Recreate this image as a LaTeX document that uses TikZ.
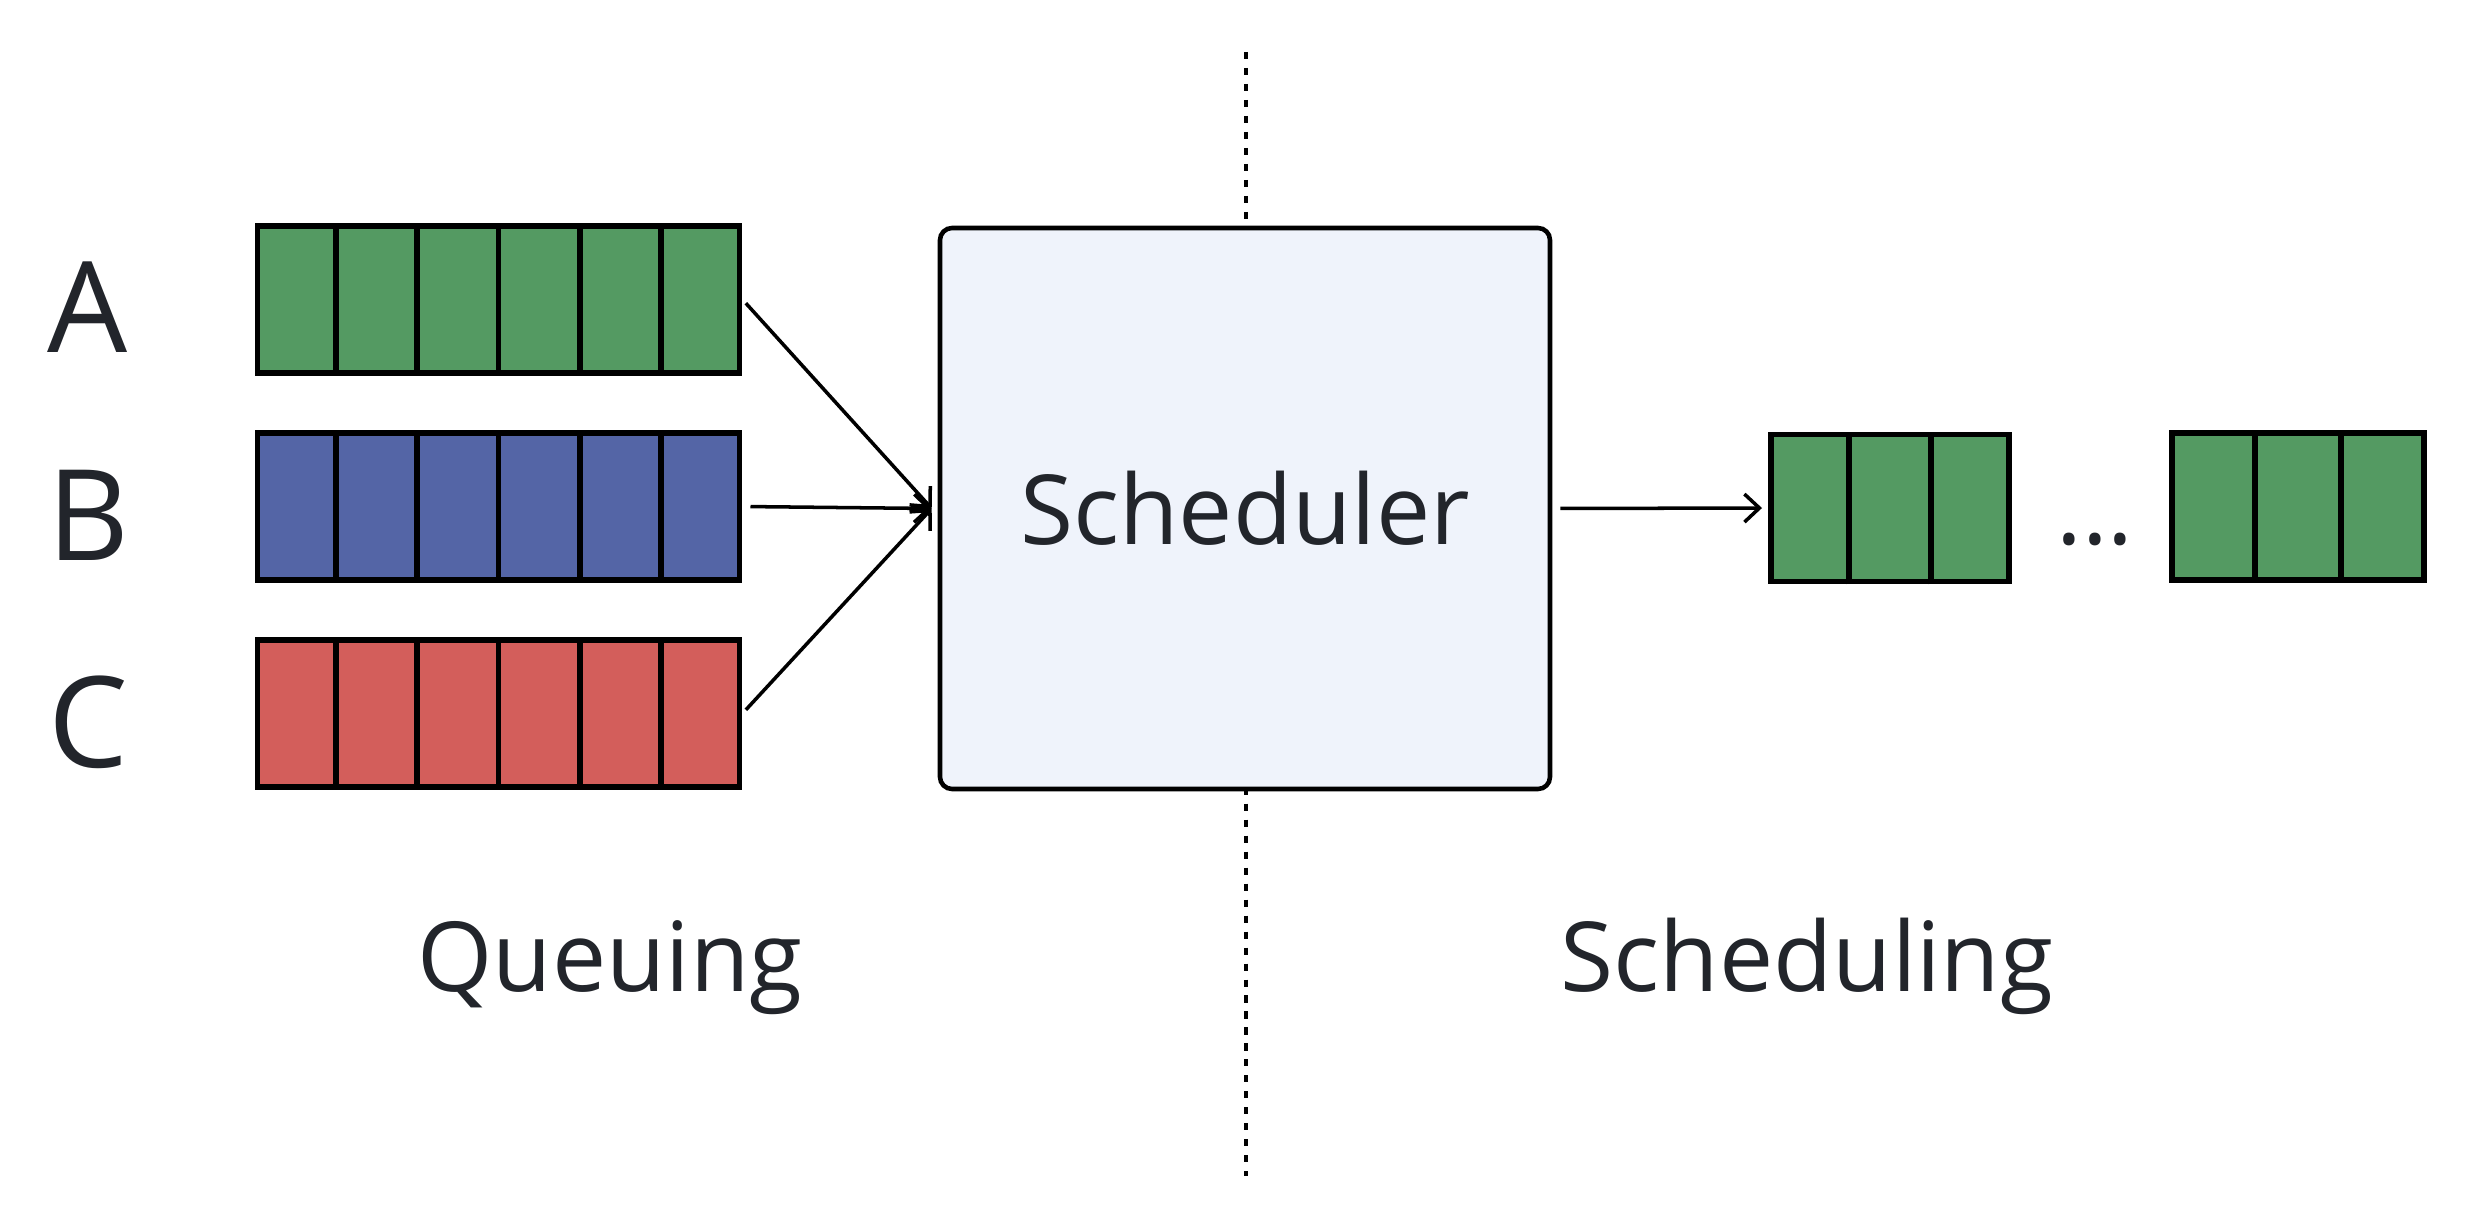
\documentclass[tikz,border=0pt]{standalone}
\usepackage{fontspec}
\setmainfont{Open Sans}
\usetikzlibrary{positioning, arrows.meta, calc}

\definecolor{qgreen}{HTML}{549A62}
\definecolor{qblue}{HTML}{5465A6}
\definecolor{qred}{HTML}{D35E5B}
\definecolor{ink}{HTML}{22252B}
\definecolor{boxfill}{HTML}{EFF3FB}

\tikzset{
  queue/.style={draw=black, line width=1.7pt, minimum height=1.47cm, inner sep=0pt},
  cellsep/.style={line width=1.7pt},
  schedbox/.style={draw=black, line width=1.3pt, fill=boxfill, rounded corners=0.12cm,
    minimum width=6.10cm, minimum height=5.61cm, text=ink, font=\fontsize{27.5}{32}\selectfont},
  lettertxt/.style={text=ink, anchor=base, font=\fontsize{36}{42}\selectfont},
  captiontxt/.style={text=ink, anchor=base, font=\fontsize{27.5}{32}\selectfont},
  flow/.style={-{Straight Barb[length=0.15cm, width=0.28cm, line width=1pt]}, line width=1pt},
  divider/.style={line width=1pt, dash pattern=on 2pt off 2.55pt}
}

\begin{document}
\begin{tikzpicture}
  \useasboundingbox (0,0) rectangle (24.76,-12.30);

  % input queues with their letters
  \foreach \q/\col/\y/\txt in {qa/qgreen/2.995/A, qb/qblue/5.065/B, qc/qred/7.135/C} {
    \node[queue, fill=\col, minimum width=4.82cm] (\q) at (4.985,-\y) {};
    \foreach \i in {1,...,5}
      \draw[cellsep] ($(\q.south west)!\i/6!(\q.south east)$) -- ($(\q.north west)!\i/6!(\q.north east)$);
    \node[lettertxt] (l\q) at (0.88,-\y-0.535) {\txt};
  }

  % divider behind the scheduler
  \coordinate (dtop) at (12.46,-0.52);
  \coordinate (dbot) at (12.46,-11.76);
  \draw[divider] (dtop) -- (dbot);

  \node[schedbox] (sched) at (12.45,-5.085) {Scheduler};
  \coordinate[left=0.06cm of sched.west] (join);

  % output queues
  \node[queue, fill=qgreen, minimum width=2.38cm] (qo) at (18.90,-5.08) {};
  \node[queue, fill=qgreen, minimum width=2.52cm] (qn) at (22.975,-5.065) {};
  \foreach \q in {qo, qn}
    \foreach \i in {1,2}
      \draw[cellsep] ($(\q.south west)!\i/3!(\q.south east)$) -- ($(\q.north west)!\i/3!(\q.north east)$);
  \node[captiontxt] (dots) at (20.95,-5.445) {...};

  \path[flow]
    (qa.east) edge[shorten <=0.05cm] (join)
    (qb.east) edge[shorten <=0.08cm] (join)
    (qc.east) edge[shorten <=0.05cm] (join)
    (sched.east) edge[shorten <=0.08cm, shorten >=0.06cm] (qo.west);

  \node[captiontxt] (capq) at (6.10,-9.91) {Queuing};
  \node[captiontxt] (caps) at (18.07,-9.91) {Scheduling};
\end{tikzpicture}
\end{document}
